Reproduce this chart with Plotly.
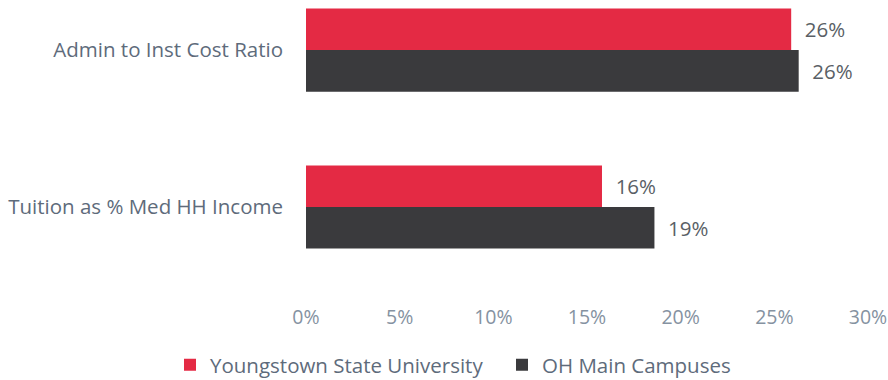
import plotly.graph_objects as go

categories = ["Admin to Inst Cost Ratio", "Tuition as % Med HH Income"]
ysu_values = [0.259, 0.158]
oh_values = [0.263, 0.186]
series_names = ["Youngstown State University", "OH Main Campuses"]
tick_vals = [0, 0.05, 0.10, 0.15, 0.20, 0.25, 0.30]

red = "#E42A44"
dark = "#3A3A3D"
label_color = "#5E6B7B"
value_color = "#5A5F66"
tick_color = "#8592A1"
font_family = "'Open Sans', sans-serif"
fs = 20.5

fig = go.Figure()
fig.add_trace(go.Bar(y=categories, x=ysu_values, name=series_names[0], orientation="h",
                     marker=dict(color=red, line=dict(width=0)),
                     texttemplate="  %{x:.0%}", textposition="outside",
                     textfont=dict(color=value_color, size=fs), legend="legend"))
fig.add_trace(go.Bar(y=categories, x=oh_values, name=series_names[1], orientation="h",
                     marker=dict(color=dark, line=dict(width=0)),
                     texttemplate="  %{x:.0%}", textposition="outside",
                     textfont=dict(color=value_color, size=fs), legend="legend2"))

legend_common = dict(orientation="h", xref="container", yref="container",
                     y=0.04, xanchor="left", yanchor="middle",
                     font=dict(size=fs, color=label_color), itemwidth=30)

fig.update_layout(
    width=888, height=380,
    barmode="group", bargap=0.47, bargroupgap=0,
    plot_bgcolor="white", paper_bgcolor="white",
    font=dict(family=font_family, size=fs, color=label_color),
    margin=dict(l=306, r=20, t=5, b=90),
    showlegend=True,
    legend=dict(x=170 / 888, **legend_common),
    legend2=dict(x=502 / 888, **legend_common),
)
fig.update_xaxes(range=[0, 0.30], tickvals=tick_vals, tickformat=".0%",
                 showgrid=False, zeroline=False, showline=False, automargin=False,
                 ticklabeloverflow="allow",
                 tickfont=dict(color=tick_color, size=19.5), ticklabelstandoff=13)
fig.update_yaxes(categoryorder="array", categoryarray=categories,
                 range=[1.529, -0.287], showgrid=False, showline=False,
                 tickfont=dict(color=label_color, size=fs), ticklabelstandoff=22)

fig.write_html("out.html", config={"displayModeBar": False},
               post_script="document.body.style.margin='0px';")
